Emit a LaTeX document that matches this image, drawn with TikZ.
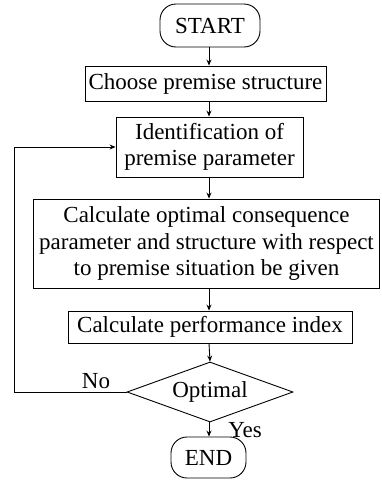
\documentclass[tikz,border=0pt]{standalone}
\usepackage{fontspec}
\setmainfont{Liberation Serif}
\usetikzlibrary{shapes.geometric,arrows.meta}
\begin{document}
\begin{tikzpicture}[x=1pt,y=-1pt,
  every node/.style={font=\fontsize{23}{26.5}\selectfont},
  box/.style={draw,line width=0.9pt,inner sep=0pt,align=center},
  term/.style={box,rounded corners=16pt},
  decision/.style={draw,line width=0.9pt,diamond,inner sep=0pt,aspect=2.77,
    minimum width=166pt,minimum height=60pt},
  flow/.style={line width=0.9pt,-{Stealth[length=6pt,width=5pt]}},
  lbl/.style={inner sep=0pt}]
\useasboundingbox (0,0) rectangle (381,485);
\node[term,minimum width=100pt,minimum height=43pt] (start) at (210,25.5) {START};
\node[box,minimum width=241pt,minimum height=35pt] (choose) at (205.5,83.5) {Choose premise structure};
\node[box,minimum width=187pt,minimum height=60pt] (ident) at (209.5,147) {Identification of\\premise parameter};
\node[box,minimum width=346pt,minimum height=89pt] (calc) at (206.5,243.5) {Calculate optimal consequence\\parameter and structure with respect\\to premise situation be given};
\node[box,minimum width=284pt,minimum height=32pt] (perf) at (210,327) {Calculate performance index};
\node[decision] (opt) at (210,392) {Optimal};
\node[term,minimum width=75pt,minimum height=41pt] (end) at (208.5,457.5) {END};
\coordinate (lb) at (14,392);
\coordinate (lt) at (14,147);
\draw[flow] (start.south -| 209,0) -- (choose.north -| 209,0);
\draw[flow] (choose.south -| 209,0) -- (ident.north -| 209,0);
\draw[flow] (ident.south -| 209,0) -- (calc.north -| 209,0);
\draw[flow] (calc.south -| 209,0) -- (perf.north -| 209,0);
\draw[flow] (perf.south -| 209,0) -- (opt.north);
\draw[flow] (opt.south -| 209,0) -- (end.north -| 209,0);
\draw[flow] (opt.west) -- (lb) -- (lt) -- (ident.west);
\node[lbl] (no) at (96,381) {No};
\node[lbl] (yes) at (245,430) {Yes};
\end{tikzpicture}
\end{document}
